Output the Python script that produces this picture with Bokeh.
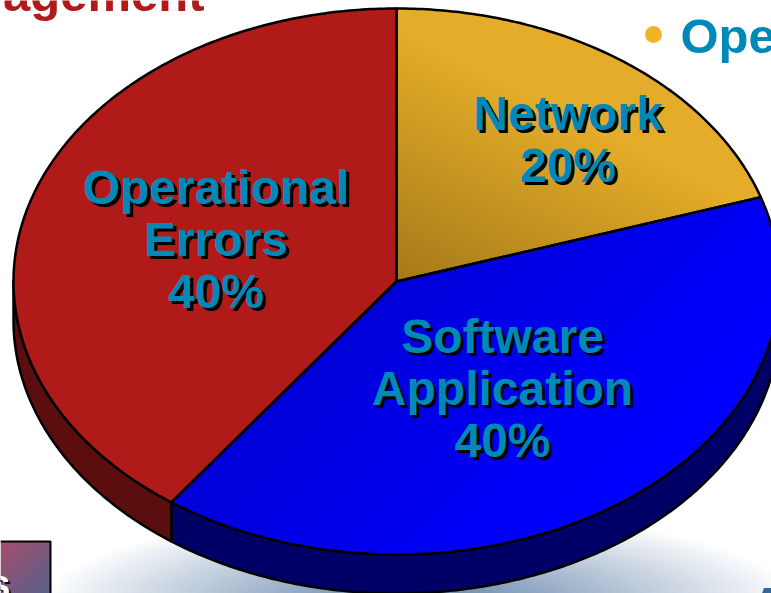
import numpy as np
from bokeh.plotting import figure
from bokeh.models import Range1d
from bokeh.core.properties import value
from bokeh.embed import file_html
from bokeh.resources import INLINE

# --- data ---
slice_names = ["Network", "Software Application", "Operational Errors"]
slice_values = [20, 40, 40]
slice_label_lines = [["Network", "20%"], ["Software", "Application", "40%"], ["Operational", "Errors", "40%"]]
wall_colors = ["#000000", "#000066", "#5c0e0e"]
label_x = [567.5, 502, 215.5]
label_first_y = [113, 336, 187]

W, H = 771, 593
CX, CY, RX, RY, DEPTH = 396, 281, 383, 273, 39
FONT = "Liberation Sans"
TEAL = "#0088b8"

p = figure(width=W, height=H, output_backend="svg", toolbar_location=None,
           x_range=Range1d(0, W), y_range=Range1d(0, H),
           min_border=0, outline_line_color=None, background_fill_color="white")
p.axis.visible = False
p.grid.visible = False

xx, yy = np.meshgrid(np.arange(W) + 0.5, np.arange(H) + 0.5)


def Y(y):
    return H - np.asarray(y, dtype=float)


def rgba(r, g, b, a):
    out = np.zeros((H, W, 4), dtype=np.uint8)
    out[..., 0], out[..., 1], out[..., 2], out[..., 3] = r, g, b, a
    return out.view(np.uint32).reshape(H, W)


def put(img):
    p.image_rgba(image=[np.flipud(img).copy()], x=0, y=0, dw=W, dh=H)


def mix(c0, c1, t):
    return [c0[i] + (c1[i] - c0[i]) * t for i in range(3)]


def slice_mask(a0, a1):
    dx, dy = (xx - CX) / RX, (yy - CY) / RY
    ang = np.mod(np.arctan2(dx, -dy), 2 * np.pi)
    return (dx ** 2 + dy ** 2 <= 1) & (ang >= a0) & (ang <= a1)


# backdrop glow under the pie
t = np.clip(np.sqrt(((xx - 420) / 380) ** 2 + ((yy - 605) / 95) ** 2), 0, 1)
c = mix((90, 125, 165), (255, 255, 255), t)
put(rgba(c[0], c[1], c[2], np.where(t < 1, 255, 0)))

# box, bottom left
bt = np.clip((xx + yy - 541) / 100, 0, 1)
c = mix((165, 78, 108), (90, 96, 140), bt)
put(rgba(c[0], c[1], c[2], np.where((xx <= 50) & (yy >= 541), 255, 0)))
p.line([0, 50, 50], Y([541, 541, 593]), line_color="black", line_width=2)

# angles from the values
shares = np.array(slice_values, dtype=float)
edges = np.concatenate([[0], np.cumsum(shares) / shares.sum() * 2 * np.pi])


def arc(a0, a1, drop=0.0):
    n = max(int((a1 - a0) * 90), 2)
    a = np.linspace(a0, a1, n)
    return CX + RX * np.sin(a), CY - RY * np.cos(a) + drop


# side walls, only on the lower half of the rim
for i in range(len(slice_values)):
    a0, a1 = max(edges[i], np.pi / 2), min(edges[i + 1], 3 * np.pi / 2)
    if a1 <= a0:
        continue
    tx, ty = arc(a0, a1)
    bx, by = arc(a0, a1, DEPTH)
    p.patch(np.concatenate([tx, bx[::-1]]), Y(np.concatenate([ty, by[::-1]])),
            fill_color=wall_colors[i], line_color="black", line_width=2.5, line_join="round")

# top faces: gold and blue shaded, red flat
s = np.clip((0.5 * xx - yy + 83) / 250, 0, 1)
c = mix((165, 122, 26), (228, 172, 40), s)
put(rgba(c[0], c[1], c[2], np.where(slice_mask(edges[0], edges[1]), 255, 0)))

s = np.clip((xx + yy - 650) / 450, 0, 1)
c = mix((0, 0, 216), (0, 0, 255), s)
put(rgba(c[0], c[1], c[2], np.where(slice_mask(edges[1], edges[2]), 255, 0)))

rx_, ry_ = arc(edges[2], edges[3])
p.patch(np.concatenate([[CX], rx_]), Y(np.concatenate([[CY], ry_])), fill_color="#b01a18", line_color=None)

for i in range(len(slice_values)):
    ax, ay = arc(edges[i], edges[i + 1])
    p.patch(np.concatenate([[CX], ax]), Y(np.concatenate([[CY], ay])), fill_color=None,
            line_color="black", line_width=2.5, line_join="round")


def txt(x, y, s, color, size, align="center", shadow=None):
    kw = dict(text_font=value(FONT), text_font_style="bold", text_font_size=f"{size}px",
              text_align=align, text_baseline="middle")
    if shadow:
        p.text([x + shadow], [float(Y(y + shadow))], text=[s], text_color="black", **kw)
    p.text([x], [float(Y(y))], text=[s], text_color=color, **kw)


# slice labels
for lines, lx, ly in zip(slice_label_lines, label_x, label_first_y):
    for k, line in enumerate(lines):
        txt(lx, ly + k * 52, line, TEAL, 48, shadow=3)

# fragments of the surrounding slide
txt(204, -7, "agement", "#b11a1a", 49, "right")
p.scatter([653], [float(Y(34))], size=17, color="#f0b429", line_color=None)
txt(680, 35, "Ope", TEAL, 49, "left")
txt(750, 603, "A", "#336699", 49, "left")
txt(10, 583, "s", "white", 40, "right", shadow=2)

open("out.html", "w").write(file_html(p, INLINE))
